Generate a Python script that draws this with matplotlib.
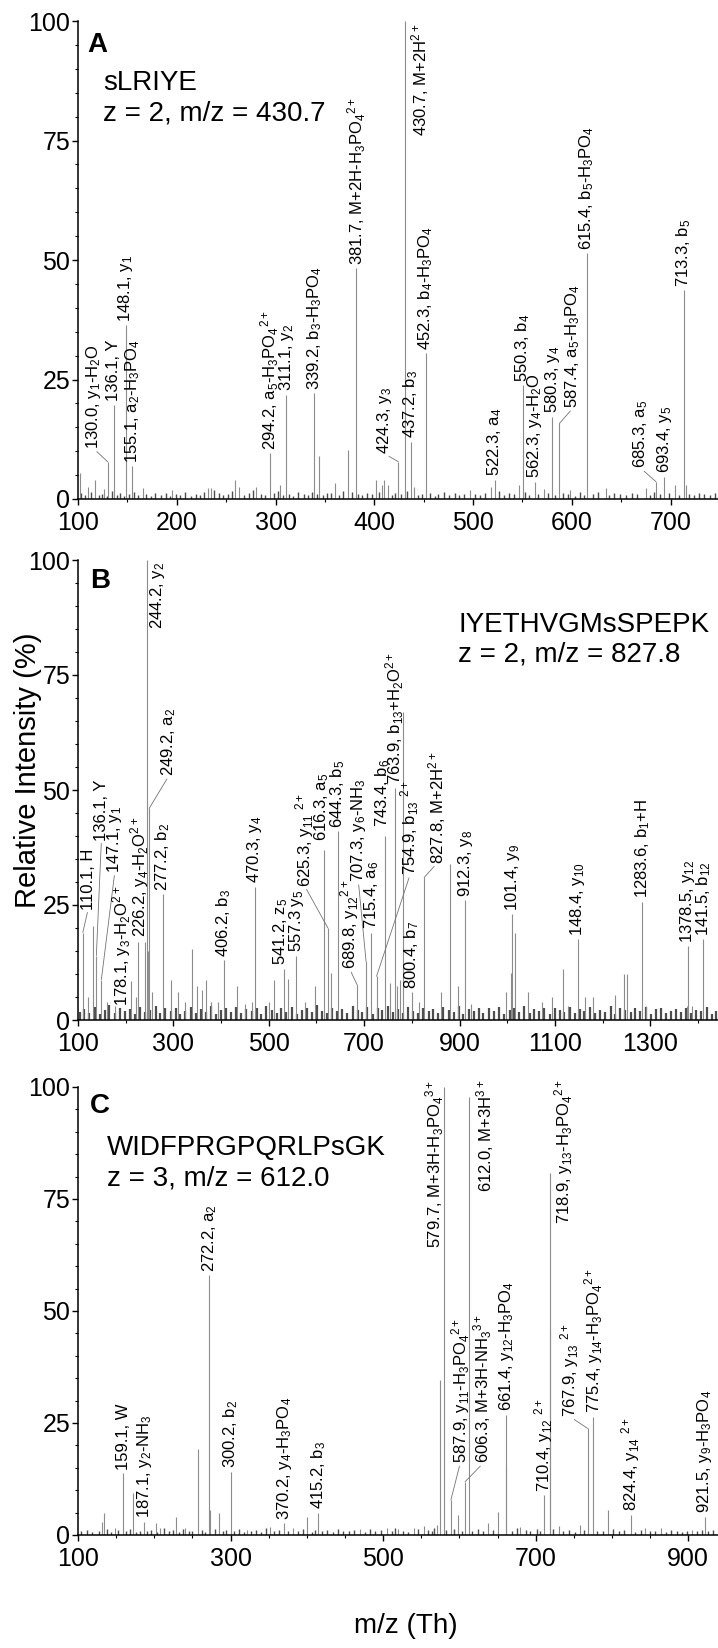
import matplotlib
matplotlib.use('Agg')
import matplotlib.pyplot as plt
from matplotlib.ticker import MultipleLocator

plt.rcParams['font.family'] = ['Liberation Sans', 'DejaVu Sans']
plt.rcParams['mathtext.fontset'] = 'custom'
plt.rcParams['mathtext.rm'] = 'Liberation Sans'
plt.rcParams['mathtext.it'] = 'Liberation Sans:italic'
plt.rcParams['mathtext.bf'] = 'Liberation Sans:bold'
plt.rcParams['mathtext.default'] = 'regular'

# ---------------- Panel A data ----------------
A_mz = [130.0, 136.1, 148.1, 155.1, 294.2, 311.1, 339.2, 381.7, 424.3, 430.7, 437.2,
        452.3, 522.3, 550.3, 562.3, 580.3, 587.4, 615.4, 685.3, 693.4, 713.3]
A_int = [7.8, 19.7, 36.4, 6.8, 9.6, 21.8, 22.1, 48.3, 7.8, 100, 12.0,
         30.5, 4.0, 23.8, 3.6, 17.2, 15.8, 51.4, 3.6, 4.7, 43.7]
A_lab = ["130.0, y$_1$-H$_2$O", "136.1, Y", "148.1, y$_1$", "155.1, a$_2$-H$_3$PO$_4$",
         "294.2, a$_5$-H$_3$PO$_4$$^{2+}$", "311.1, y$_2$", "339.2, b$_3$-H$_3$PO$_4$",
         "381.7, M+2H-H$_3$PO$_4$$^{2+}$", "424.3, y$_3$", "430.7, M+2H$^{2+}$", "437.2, b$_3$",
         "452.3, b$_4$-H$_3$PO$_4$", "522.3, a$_4$", "550.3, b$_4$", "562.3, y$_4$-H$_2$O",
         "580.3, y$_4$", "587.4, a$_5$-H$_3$PO$_4$", "615.4, b$_5$-H$_3$PO$_4$", "685.3, a$_5$",
         "693.4, y$_5$", "713.3, b$_5$"]
A_other_mz = [102, 110, 117.5, 126, 166, 195, 232, 235, 259, 263, 280, 305, 344, 360, 373.6,
              402, 408, 410, 414, 440, 497, 518.6, 547, 572, 598.6, 634.4, 675.5, 704, 716]
A_other_int = [5.4, 2.6, 4.0, 2.0, 2.2, 1.9, 2.2, 2.4, 4.0, 2.6, 2.6, 2.9, 8.9, 3.3, 10.3,
               4.0, 3.0, 4.0, 3.0, 2.5, 1.8, 2.6, 2.9, 2.0, 1.8, 2.2, 2.2, 2.9, 3.0]
A_noise_mz = [103, 107, 113, 121, 124, 129, 134, 139, 143, 147,
              152, 157, 161, 169, 174, 178, 184, 189, 193, 199,
              203, 208, 214, 219, 224, 228, 238, 243, 247, 252,
              256, 268, 273, 277, 285, 289, 298, 303, 308, 314,
              318, 323, 329, 333, 337, 342, 348, 352, 356, 364,
              368, 377, 384, 388, 393, 398, 405, 418, 421, 427,
              433, 444, 448, 456, 461, 465, 471, 476, 482, 486,
              491, 502, 507, 512, 526, 531, 536, 541, 553, 557,
              566, 576, 583, 591, 596, 603, 608, 612, 621, 627,
              638, 643, 649, 655, 661, 666, 679, 683, 689, 698,
              709, 719, 724, 729, 734, 740, 745]
A_noise_int = [1.2, 0.8, 1.5, 0.9, 1.1, 0.7, 1.6, 0.9, 1.3, 0.6,
               1.0, 1.4, 0.8, 1.1, 0.7, 1.2, 0.9, 1.3, 0.6, 1.0,
               0.8, 1.5, 0.7, 1.1, 0.9, 1.4, 1.8, 1.2, 0.8, 1.0,
               1.7, 0.9, 1.3, 1.9, 1.0, 0.8, 1.2, 1.6, 0.9, 1.1,
               0.7, 1.4, 1.0, 0.8, 1.5, 1.1, 0.9, 1.3, 1.2, 0.8,
               1.6, 1.4, 1.0, 0.9, 1.3, 1.1, 1.5, 0.8, 1.2, 1.0,
               1.7, 0.9, 1.1, 1.3, 0.7, 1.0, 1.4, 0.8, 1.2, 0.9,
               1.1, 1.0, 0.8, 1.3, 1.6, 0.9, 1.2, 1.0, 1.4, 0.8,
               1.1, 1.3, 0.9, 1.2, 1.0, 0.7, 1.4, 0.9, 1.1, 1.5,
               0.8, 1.2, 1.0, 0.9, 1.3, 1.1, 0.8, 1.4, 1.0, 1.2,
               0.9, 1.1, 0.8, 1.3, 1.0, 0.9, 1.2]

# ---------------- Panel B data ----------------
B_mz = [110.1, 138.5, 149.0, 178.1, 226.2, 244.2, 249.2, 277.2, 406.2, 470.3, 531.0,
        557.3, 616.3, 624.0, 644.3, 686.0, 704.0, 715.4, 743.4, 726.0, 763.9, 800.4,
        826.0, 912.3, 1010.4, 1148.4, 1283.6, 1378.5, 1411.5]
B_int = [19, 14, 8.8, 3, 17, 100, 46, 27.3, 13, 29, 11,
         14, 37, 20, 41, 7.5, 12.8, 19, 40, 9.5, 50.5, 6,
         31, 26, 23, 17.5, 25.7, 16, 17.5]
B_lab = ["110.1, H", "136.1, Y", "147.1, y$_1$", "178.1, y$_3$-H$_2$O$^{2+}$",
         "226.2, y$_4$-H$_2$O$^{2+}$", "244.2, y$_2$", "249.2, a$_2$", "277.2, b$_2$",
         "406.2, b$_3$", "470.3, y$_4$", "541.2, z$_5$", "557.3 y$_5$", "616.3, a$_5$",
         "625.3, y$_{11}$ $^{2+}$", "644.3, b$_5$", "689.8, y$_{12}$$^{2+}$", "707.3, y$_6$-NH$_3$",
         "715.4, a$_6$", "743.4, b$_6$", "754.9, b$_{13}$ $^{2+}$", "763.9, b$_{13}$+H$_2$O$^{2+}$",
         "800.4, b$_7$", "827.8, M+2H$^{2+}$", "912.3, y$_8$", "101.4, y$_9$", "148.4, y$_{10}$",
         "1283.6, b$_1$+H", "1378.5, y$_{12}$", "141.5, b$_{12}$"]
B_other_mz = [121, 131.5, 160, 212, 222, 240, 246, 256, 294, 310, 325, 340, 350, 360, 369,
              378, 394, 434, 450, 464, 500, 510.5, 541, 577, 598, 631, 754, 768, 775, 781,
              815, 862, 880, 897, 924, 997, 1007.6, 1017, 1044, 1072, 1093, 1116, 1128, 1163,
              1180, 1226, 1245, 1252, 1292, 1376, 1387]
B_other_int = [5, 20.4, 4, 8.4, 5, 17, 15, 6, 8.8, 6, 4, 15.5, 7.3, 6.6, 8.8,
               4, 4, 7.3, 3.5, 4, 4, 8.8, 9, 4, 7.3, 10.2, 8, 7.3, 8.8, 67,
               4, 6, 34, 7.3, 3.5, 6, 10.2, 19, 6, 4, 5, 11, 3, 5,
               5, 5.5, 10, 10, 3, 3, 3]
B_noise_mz = [104, 113, 124, 135, 146, 157, 166, 177, 188, 199,
              208, 219, 230, 241, 252, 263, 272, 283, 294, 305,
              314, 325, 336, 347, 358, 369, 378, 389, 400, 411,
              420, 431, 442, 453, 464, 475, 484, 495, 506, 517,
              526, 537, 548, 559, 570, 581, 590, 601, 612, 623,
              632, 643, 654, 665, 676, 687, 696, 707, 718, 729,
              738, 749, 760, 771, 782, 793, 802, 813, 824, 835,
              844, 855, 866, 877, 888, 899, 908, 919, 930, 941,
              950, 961, 972, 983, 994, 1005, 1014, 1025, 1036, 1047,
              1056, 1067, 1078, 1089, 1100, 1111, 1120, 1131, 1142, 1153,
              1162, 1173, 1184, 1195, 1206, 1217, 1226, 1237, 1248, 1259,
              1268, 1279, 1290, 1301, 1312, 1323, 1332, 1343, 1354, 1365,
              1374, 1385, 1396, 1407, 1418, 1429, 1438]
B_noise_int = [1.8, 2.4, 1.5, 2.9, 1.2, 2.1, 3.2, 1.6, 2.6, 1.9,
               2.3, 1.4, 2.8, 1.7, 2.2, 3.0, 1.5, 2.5, 1.9, 2.7,
               1.3, 2.0, 2.9, 1.6, 2.4, 1.8, 3.1, 1.4, 2.2, 2.6,
               1.7, 2.8, 1.5, 2.3, 1.9, 2.7, 1.4, 3.0, 2.1, 1.6,
               2.5, 1.8, 2.9, 1.3, 2.2, 2.6, 1.7, 3.2, 2.0, 1.5,
               2.7, 1.9, 2.4, 1.6, 3.0, 2.2, 1.8, 2.8, 1.4, 2.5,
               2.1, 3.1, 1.7, 2.3, 1.5, 2.9, 2.0, 1.6, 2.6, 1.9,
               2.4, 1.5, 2.8, 2.1, 1.7, 3.0, 1.4, 2.3, 1.9, 2.7,
               1.6, 2.5, 2.0, 2.9, 1.3, 2.2, 2.6, 1.8, 3.1, 1.5,
               2.3, 1.9, 2.7, 1.4, 2.5, 2.1, 1.7, 2.9, 1.6, 2.4,
               2.0, 2.8, 1.5, 2.2, 1.8, 3.0, 1.4, 2.6, 2.1, 1.7,
               2.5, 1.9, 2.9, 1.3, 2.3, 2.7, 1.6, 2.0, 2.4, 1.8,
               2.6, 1.5, 2.2, 1.9, 2.8, 1.4, 2.0]

# ---------------- Panel C data ----------------
C_mz = [159.1, 187.1, 272.2, 300.2, 370.2, 415.2, 579.7, 588.8, 607.5, 612.0, 661.4,
        710.4, 718.9, 768.0, 775.4, 824.4, 921.5]
C_int = [13.8, 3.0, 58, 14.1, 2.6, 5.0, 100, 7.8, 11.9, 97.8, 26.8,
         8.9, 80.7, 23.8, 26.4, 4.5, 4.1]
C_lab = ["159.1, W", "187.1, y$_2$-NH$_3$", "272.2, a$_2$", "300.2, b$_2$",
         "370.2, y$_4$-H$_3$PO$_4$", "415.2, b$_3$", "579.7, M+3H-H$_3$PO$_4$$^{3+}$",
         "587.9, y$_{11}$-H$_3$PO$_4$$^{2+}$", "606.3, M+3H-NH$_3$$^{3+}$", "612.0, M+3H$^{3+}$",
         "661.4, y$_{12}$-H$_3$PO$_4$", "710.4, y$_{12}$ $^{2+}$", "718.9, y$_{13}$-H$_3$PO$_4$$^{2+}$",
         "767.9, y$_{13}$ $^{2+}$", "775.4, y$_{14}$-H$_3$PO$_4$$^{2+}$", "824.4, y$_{14}$ $^{2+}$",
         "921.5, y$_9$-H$_3$PO$_4$"]
C_other_mz = [132, 134, 148, 172.5, 202, 208, 229, 240, 257.8, 272.5, 285, 322, 352, 382, 400,
              470, 505, 520, 540, 553, 570, 574.8, 598.8, 637.7, 651, 660.8, 680, 718.6, 730,
              758, 794.7, 843.6, 864.6, 905]
C_other_int = [3.0, 4.8, 1.5, 9.3, 2.7, 1.5, 4.1, 1.5, 19.3, 5.6, 4.8, 1.2, 1.8, 1.5, 4.1,
               1.3, 1.5, 1.4, 1.6, 2.0, 2.2, 34.7, 4.5, 2.6, 5.2, 15.6, 1.8, 45.7, 2.0,
               2.2, 5.6, 1.5, 1.5, 1.2]
C_noise_mz = [104, 112, 119, 127, 138, 143, 152, 163, 168, 176,
              181, 191, 196, 204, 213, 219, 225, 233, 237, 245,
              250, 262, 266, 279, 290, 294, 305, 311, 318, 327,
              333, 340, 346, 357, 364, 375, 388, 395, 407, 411,
              420, 427, 434, 441, 448, 455, 462, 476, 483, 490,
              497, 511, 515, 526, 533, 546, 559, 564, 567, 583,
              593, 603, 617, 624, 631, 644, 669, 675, 687, 692,
              702, 706, 723, 736, 744, 751, 763, 781, 788, 801,
              809, 816, 830, 838, 850, 857, 871, 878, 885, 892,
              899, 912, 918, 926, 933]
C_noise_int = [0.8, 1.2, 0.6, 1.0, 1.4, 0.7, 1.1, 0.9, 1.3, 0.6,
               1.0, 0.8, 1.2, 0.7, 1.5, 0.9, 1.1, 0.6, 1.3, 0.8,
               1.0, 1.2, 0.7, 1.4, 0.9, 1.1, 0.8, 1.3, 0.6, 1.0,
               1.2, 0.7, 1.5, 0.9, 1.1, 0.8, 1.0, 1.3, 0.7, 1.2,
               0.9, 1.1, 0.6, 1.4, 0.8, 1.0, 1.2, 0.7, 1.3, 0.9,
               1.1, 0.8, 1.5, 1.0, 0.7, 1.3, 1.2, 0.9, 1.6, 1.1,
               1.4, 1.0, 0.8, 1.3, 0.9, 1.2, 1.0, 1.5, 1.1, 0.8,
               1.3, 1.0, 1.4, 0.9, 1.1, 0.7, 1.2, 1.0, 0.8, 1.3,
               0.9, 1.1, 0.7, 1.2, 0.8, 1.0, 0.6, 1.1, 0.9, 0.7,
               1.0, 0.8, 1.2, 0.9, 1.1]

# ---------------- layout (label placement, in data units) ----------------
# key: first token of label -> (text x, text y, draw leader line)
A_place = {"130.0": (116, 10.5, True), "424.3": (410, 9.5, True), "430.7": (446, 76, False),
           "587.4": (601, 19, True), "685.3": (670, 6.4, True)}
B_place = {"110.1": (121, 24, True), "136.1": (149, 39, True), "147.1": (177, 32, True),
           "178.1": (191, 3.0, False), "226.2": (229, 18, False),
           "244.2": (266, 85, False), "249.2": (290, 53, True), "541.2": (525, 12, False),
           "616.3": (611, 39, False), "625.3": (576, 29, True),
           "689.8": (670, 11, True), "707.3": (688, 30, True), "743.4": (739, 42, False),
           "754.9": (796, 31.5, True), "827.8": (852, 34, True)}
C_place = {"579.7": (568, 64, False), "587.9": (601, 16, True), "606.3": (631, 16, True),
           "612.0": (634, 76.6, False), "718.9": (737, 69.5, False), "767.9": (745, 26.4, True)}

W, H = 718, 1648
fig = plt.figure(figsize=(W / 100, H / 100), dpi=100)

LAB_FS = 12
TICK_FS = 18
BIG_FS = 20


def axes_at(top_px, bottom_px):
    return fig.add_axes([78 / W, 1 - bottom_px / H, 640 / W, (bottom_px - top_px) / H])


def draw_panel(ax, xlim, major, minor, mz, inten, labs, omz, oint, nmz, nint, place, noise_lw):
    ax.vlines(nmz, 0, nint, colors='0.3', lw=noise_lw)
    ax.vlines(omz, 0, oint, colors='0.55', lw=0.8)
    ax.vlines(mz, 0, inten, colors='0.55', lw=0.8)
    for x, y, lab in zip(mz, inten, labs):
        key = lab.split(',')[0].split(' ')[0]
        if key in place:
            tx, ty, line = place[key]
            if line:
                ax.annotate(lab, xy=(x, y), xytext=(tx, ty), textcoords='data',
                            rotation=90, ha='center', va='bottom', fontsize=LAB_FS,
                            annotation_clip=False,
                            arrowprops=dict(arrowstyle='-', color='0.45', lw=0.6,
                                            shrinkA=0, shrinkB=0, relpos=(0.5, 0)))
            else:
                ax.text(tx, ty, lab, rotation=90, ha='center', va='bottom',
                        fontsize=LAB_FS, clip_on=False)
        else:
            ax.annotate(lab, xy=(x, y), xytext=(0, 2.5), textcoords='offset points',
                        rotation=90, ha='center', va='bottom', fontsize=LAB_FS,
                        annotation_clip=False)
    ax.set_xlim(*xlim)
    ax.set_ylim(0, 100)
    ax.set_xticks(major)
    ax.xaxis.set_minor_locator(MultipleLocator(minor))
    ax.yaxis.set_major_locator(MultipleLocator(25))
    ax.yaxis.set_minor_locator(MultipleLocator(5))
    for s in ['top', 'right']:
        ax.spines[s].set_visible(False)
    for s in ['left', 'bottom']:
        ax.spines[s].set_linewidth(1.1)
    ax.tick_params(axis='both', which='major', labelsize=TICK_FS, length=4.5, width=1.0)
    ax.tick_params(axis='y', which='major', pad=1)
    ax.tick_params(axis='x', which='major', pad=4)
    ax.tick_params(axis='both', which='minor', length=2.5, width=0.8)


axA = axes_at(21, 499)
draw_panel(axA, (100, 748), [100, 200, 300, 400, 500, 600, 700], 50,
           A_mz, A_int, A_lab, A_other_mz, A_other_int, A_noise_mz, A_noise_int, A_place, 1.0)
axA.text(0.014, 0.935, "A", transform=axA.transAxes, fontsize=BIG_FS, fontweight='bold', va='baseline')
axA.text(0.039, 0.856, "sLRIYE", transform=axA.transAxes, fontsize=BIG_FS, va='baseline')
axA.text(0.039, 0.791, "z = 2, m/z = 430.7", transform=axA.transAxes, fontsize=BIG_FS, va='baseline')

axB = axes_at(560, 1020)
draw_panel(axB, (100, 1442), [100, 300, 500, 700, 900, 1100, 1300], 100,
           B_mz, B_int, B_lab, B_other_mz, B_other_int, B_noise_mz, B_noise_int, B_place, 1.6)
axB.text(0.019, 0.939, "B", transform=axB.transAxes, fontsize=BIG_FS, fontweight='bold', va='baseline')
axB.text(0.594, 0.843, "IYETHVGMsSPEPK", transform=axB.transAxes, fontsize=BIG_FS, va='baseline')
axB.text(0.594, 0.78, "z = 2, m/z = 827.8", transform=axB.transAxes, fontsize=BIG_FS, va='baseline')

axC = axes_at(1087, 1535)
draw_panel(axC, (100, 939), [100, 300, 500, 700, 900], 50,
           C_mz, C_int, C_lab, C_other_mz, C_other_int, C_noise_mz, C_noise_int, C_place, 1.0)
axC.text(0.019, 0.942, "C", transform=axC.transAxes, fontsize=BIG_FS, fontweight='bold', va='baseline')
axC.text(0.045, 0.848, "WIDFPRGPQRLPsGK", transform=axC.transAxes, fontsize=BIG_FS, va='baseline')
axC.text(0.045, 0.781, "z = 3, m/z = 612.0", transform=axC.transAxes, fontsize=BIG_FS, va='baseline')

fig.text(28 / W, 1 - 770 / H, "Relative Intensity (%)", rotation=90, ha='center', va='center',
         fontsize=21)
fig.text(406 / W, 1 - 1633 / H, "m/z (Th)", ha='center', va='baseline', fontsize=BIG_FS)

fig.savefig("out.png", dpi=100)
